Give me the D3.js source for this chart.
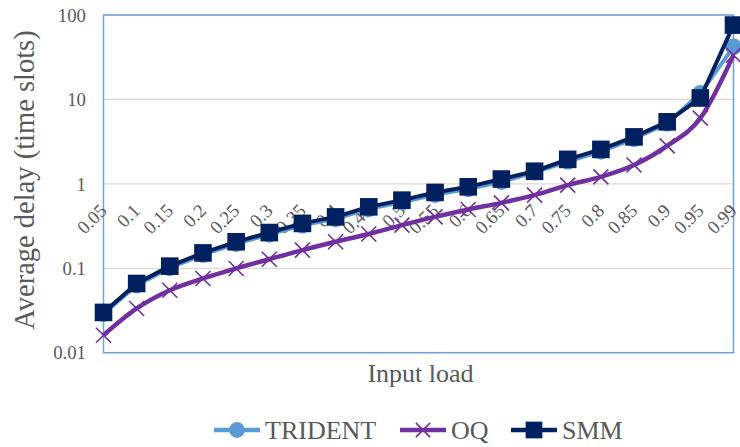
<!DOCTYPE html>
<html>
<head>
<meta charset="utf-8">
<script src="https://cdn.jsdelivr.net/npm/d3@7"></script>
<style>
  html, body { margin: 0; padding: 0; background: #ffffff; }
  svg { display: block; }
</style>
</head>
<body>
<svg id="chart" width="740" height="447"></svg>
<script>
// ---------------- data ----------------
const loads = ["0.05","0.1","0.15","0.2","0.25","0.3","0.35","0.4","0.45","0.5",
               "0.55","0.6","0.65","0.7","0.75","0.8","0.85","0.9","0.95","0.99"];
const trident = [0.029, 0.063, 0.101, 0.145, 0.196, 0.252, 0.322, 0.385, 0.505, 0.605,
                 0.745, 0.87, 1.06, 1.37, 1.84, 2.42, 3.42, 5.2, 11.8, 42];
const oq      = [0.0161, 0.0334, 0.055, 0.0757, 0.0995, 0.128, 0.164, 0.206, 0.255, 0.324,
                 0.406, 0.497, 0.596, 0.735, 0.966, 1.21, 1.67, 2.82, 6.0, 33.5];
const smm     = [0.030, 0.066, 0.106, 0.152, 0.206, 0.265, 0.34, 0.406, 0.534, 0.641,
                 0.791, 0.922, 1.14, 1.41, 1.95, 2.56, 3.6, 5.43, 10.4, 76];
const yTicks = [0.01, 0.1, 1, 10, 100];
const yTickLabels = ["0.01", "0.1", "1", "10", "100"];
const seriesNames = ["TRIDENT", "OQ", "SMM"];

// ---------------- layout ----------------
const svg = d3.select("#chart");
const pLeft = 103.5, pRight = 733.5, pTop = 15, pBottom = 352.7;
const textColor = "#595959";
const serif = "'Liberation Serif', 'Times New Roman', serif";

const x = d3.scalePoint().domain(loads).range([pLeft, pRight]);
const y = d3.scaleLog().domain([0.01, 100]).range([pBottom, pTop]);

// gridlines
svg.append("g")
  .selectAll("line").data(yTicks).join("line")
  .attr("x1", pLeft).attr("x2", pRight)
  .attr("y1", d => y(d)).attr("y2", d => y(d))
  .attr("stroke", "#D9D9D9").attr("stroke-width", 1.3);

// plot border
svg.append("rect")
  .attr("x", pLeft).attr("y", pTop)
  .attr("width", pRight - pLeft).attr("height", pBottom - pTop)
  .attr("fill", "none").attr("stroke", "#6FA3D8").attr("stroke-width", 1.5);

// y axis labels
const yAxis = d3.axisLeft(y).tickValues(yTicks)
  .tickFormat((d, i) => yTickLabels[i]).tickSize(0).tickPadding(17.5);
const gy = svg.append("g").attr("transform", `translate(${pLeft},0)`).call(yAxis);
gy.select(".domain").remove();
gy.selectAll("text")
  .attr("font-family", serif).attr("font-size", 18.8)
  .attr("fill", textColor).attr("dy", "0.33em");

// x axis labels (crossing at 1, rotated)
const xAxis = d3.axisBottom(x).tickSize(0).tickPadding(0);
const gx = svg.append("g").attr("transform", `translate(0,${y(1)})`).call(xAxis);
gx.select(".domain").remove();
gx.selectAll("text")
  .attr("font-family", serif).attr("font-size", 18.8)
  .attr("fill", textColor)
  .attr("text-anchor", "end")
  .attr("y", 0).attr("dy", 0)
  .attr("transform", "translate(4,28) rotate(-45)");

// ---------------- series ----------------
const colors = { TRIDENT: "#5B9BD5", OQ: "#7030A0", SMM: "#002060" };
const seriesData = { TRIDENT: trident, OQ: oq, SMM: smm };

function drawMarker(g, name, cx, cy, scale) {
  const s = scale || 1;
  if (name === "TRIDENT") {
    g.append("circle").attr("cx", cx).attr("cy", cy).attr("r", 8.3 * s)
      .attr("fill", colors.TRIDENT);
  } else if (name === "OQ") {
    const h = 7.5 * s;
    g.append("path")
      .attr("d", `M${cx-h},${cy-h}L${cx+h},${cy+h}M${cx-h},${cy+h}L${cx+h},${cy-h}`)
      .attr("stroke", colors.OQ).attr("stroke-width", 1.6).attr("fill", "none");
  } else {
    const h = 8.8 * s;
    g.append("rect").attr("x", cx - h).attr("y", cy - h)
      .attr("width", 2 * h).attr("height", 2 * h).attr("fill", colors.SMM);
  }
}

seriesNames.forEach(name => {
  const vals = seriesData[name];
  const g = svg.append("g");
  const line = d3.line()
    .x((d, i) => x(loads[i]))
    .y(d => y(d))
    .curve(name === "OQ" ? d3.curveMonotoneX : d3.curveLinear);
  g.append("path").datum(vals)
    .attr("d", line)
    .attr("fill", "none")
    .attr("stroke", colors[name])
    .attr("stroke-width", name === "OQ" ? 4.5 : 4)
    .attr("stroke-linejoin", "round");
  vals.forEach((v, i) => drawMarker(g, name, x(loads[i]), y(v), 1));
});

// ---------------- titles ----------------
svg.append("text")
  .attr("transform", `translate(24,180) rotate(-90)`)
  .attr("text-anchor", "middle").attr("dominant-baseline", "central")
  .attr("font-family", serif).attr("font-size", 28.5)
  .attr("fill", textColor)
  .text("Average delay (time slots)");

svg.append("text")
  .attr("x", (pLeft + pRight) / 2 + 2).attr("y", 382)
  .attr("text-anchor", "middle")
  .attr("font-family", serif).attr("font-size", 26)
  .attr("fill", textColor)
  .text("Input load");

// ---------------- legend ----------------
const legendStarts = [214, 400, 511];
const legendY = 430;
seriesNames.forEach((name, i) => {
  const g = svg.append("g");
  const x0 = legendStarts[i];
  g.append("line").attr("x1", x0).attr("x2", x0 + 46)
    .attr("y1", legendY).attr("y2", legendY)
    .attr("stroke", colors[name]).attr("stroke-width", 4.5);
  drawMarker(g, name, x0 + 23, legendY, 0.95);
  g.append("text").attr("x", x0 + 51).attr("y", legendY + 9)
    .attr("font-family", serif).attr("font-size", 26)
    .attr("fill", textColor).text(name);
});
</script>
</body>
</html>
